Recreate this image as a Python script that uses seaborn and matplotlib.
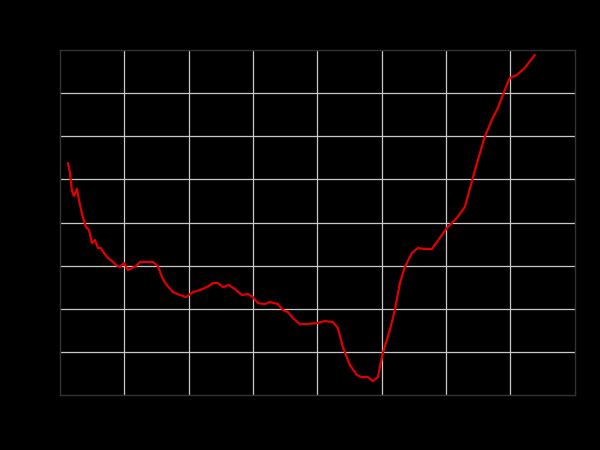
import matplotlib
matplotlib.use("Agg")
import matplotlib.pyplot as plt
import seaborn as sns
import pandas as pd

# values (grid units, 8 x 8 box)
x_vals = [0.124, 0.155, 0.186, 0.217, 0.264, 0.295, 0.342, 0.404, 0.450, 0.497,
          0.544, 0.590, 0.637, 0.683, 0.746, 0.808, 0.870, 0.932, 0.994, 1.056,
          1.118, 1.181, 1.243, 1.351, 1.445, 1.522, 1.584, 1.647, 1.755, 1.864,
          1.957, 2.066, 2.175, 2.283, 2.377, 2.454, 2.532, 2.625, 2.718, 2.827,
          2.920, 2.998, 3.076, 3.184, 3.262, 3.386, 3.464, 3.542, 3.619, 3.728,
          3.837, 3.992, 4.117, 4.241, 4.318, 4.396, 4.505, 4.614, 4.691, 4.784,
          4.862, 4.940, 5.017, 5.126, 5.204, 5.282, 5.359, 5.468, 5.561, 5.670,
          5.779, 5.903, 6.012, 6.167, 6.291, 6.416, 6.493, 6.602, 6.711, 6.804,
          6.882, 6.944, 6.990, 7.099, 7.223, 7.379]
y_vals = [5.380, 5.148, 4.730, 4.614, 4.777, 4.522, 4.197, 3.896, 3.826, 3.525,
          3.594, 3.409, 3.409, 3.293, 3.177, 3.107, 3.014, 2.968, 3.061, 2.899,
          2.945, 2.991, 3.084, 3.084, 3.084, 2.991, 2.736, 2.574, 2.388, 2.319,
          2.272, 2.388, 2.435, 2.504, 2.597, 2.597, 2.504, 2.551, 2.458, 2.319,
          2.342, 2.272, 2.133, 2.110, 2.157, 2.110, 1.971, 1.925, 1.786, 1.646,
          1.646, 1.670, 1.716, 1.693, 1.554, 1.113, 0.696, 0.464, 0.417, 0.417,
          0.325, 0.417, 0.974, 1.507, 1.971, 2.597, 2.968, 3.293, 3.409, 3.386,
          3.386, 3.641, 3.872, 4.104, 4.359, 5.032, 5.449, 5.983, 6.377, 6.655,
          6.957, 7.188, 7.351, 7.420, 7.583, 7.884]
grid_ticks = [1, 2, 3, 4, 5, 6, 7]

df = pd.DataFrame({"x": x_vals, "y": y_vals})

sns.set_style("darkgrid", {"axes.facecolor": "black", "grid.color": "#c8c8c8",
                           "axes.edgecolor": "#333333"})

fig = plt.figure(figsize=(6, 4.5), dpi=100, facecolor="black")
ax = fig.add_axes([0.1, 0.122, 0.858, 0.767])
sns.lineplot(data=df, x="x", y="y", ax=ax, color="#e00000", linewidth=1.6)

ax.set_xlim(0, 8)
ax.set_ylim(0, 8)
ax.set_xticks(grid_ticks)
ax.set_yticks(grid_ticks)
ax.set_xticklabels([])
ax.set_yticklabels([])
ax.tick_params(length=0)
ax.set_xlabel("")
ax.set_ylabel("")
ax.grid(True, color="#c8c8c8", linewidth=0.9)
for s in ax.spines.values():
    s.set_visible(True)
    s.set_color("#333333")
    s.set_linewidth(1)

fig.savefig("out.png", dpi=100, facecolor="black")
